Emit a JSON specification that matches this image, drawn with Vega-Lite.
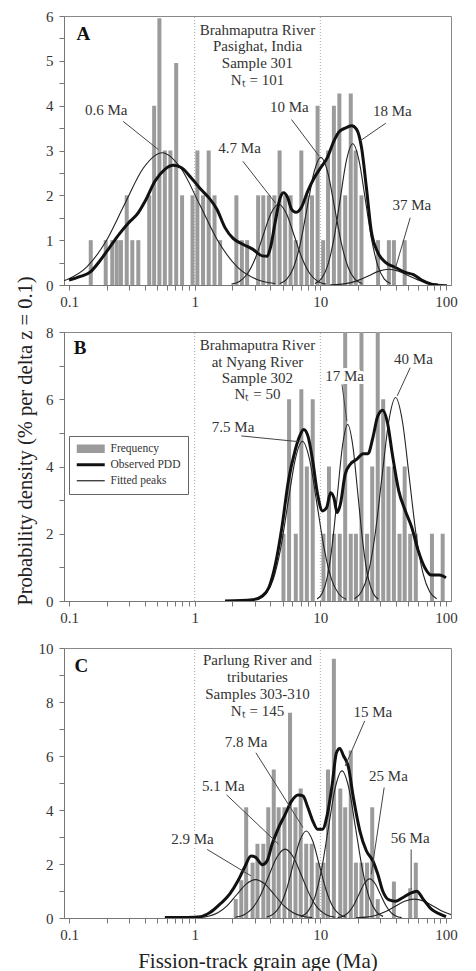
{
"$schema": "https://vega.github.io/schema/vega-lite/v6.json",
"padding": {"left": 14, "top": 8, "right": 5, "bottom": 0},
"spacing": 47,
"bounds": "flush",
"config": {
  "font": "Liberation Serif",
  "view": {"stroke": "#888", "strokeWidth": 1},
  "axis": {"labelFont": "Liberation Serif", "labelFontSize": 15, "labelColor": "#333", "tickColor": "#777", "domainColor": "#777", "tickSize": 5, "grid": false, "titleFont": "Liberation Serif", "titleFontWeight": "normal", "titleColor": "#222"},
  "text": {"font": "Liberation Serif", "fontSize": 15, "fill": "#333"}
},
"datasets": {
  "dividers": [{"panel":"A","age":1,"density":0,"density2":6},{"panel":"A","age":10,"density":0,"density2":6},{"panel":"B","age":1,"density":0,"density2":8},{"panel":"B","age":10,"density":0,"density2":8},{"panel":"C","age":1,"density":0,"density2":10},{"panel":"C","age":10,"density":0,"density2":10}],
  "bars": [
    {"panel":"A","age":0.149,"density":1},{"panel":"A","age":0.196,"density":1},{"panel":"A","age":0.221,"density":1},{"panel":"A","age":0.240,"density":1},{"panel":"A","age":0.259,"density":1},{"panel":"A","age":0.288,"density":2},{"panel":"A","age":0.319,"density":1},{"panel":"A","age":0.356,"density":1},{"panel":"A","age":0.435,"density":2},{"panel":"A","age":0.476,"density":4},{"panel":"A","age":0.524,"density":5.95},{"panel":"A","age":0.579,"density":3},{"panel":"A","age":0.641,"density":3},{"panel":"A","age":0.713,"density":4.95},{"panel":"A","age":0.794,"density":2},{"panel":"A","age":0.961,"density":2},{"panel":"A","age":1.051,"density":3},{"panel":"A","age":1.166,"density":2},{"panel":"A","age":1.293,"density":3},{"panel":"A","age":1.439,"density":2},{"panel":"A","age":1.594,"density":1},{"panel":"A","age":2.148,"density":2},{"panel":"A","age":2.374,"density":1},{"panel":"A","age":2.615,"density":1},{"panel":"A","age":3.199,"density":2},{"panel":"A","age":3.516,"density":2},{"panel":"A","age":3.893,"density":2},{"panel":"A","age":4.311,"density":2},{"panel":"A","age":4.74,"density":3},{"panel":"A","age":5.248,"density":2},{"panel":"A","age":5.8,"density":2},{"panel":"A","age":6.38,"density":1},{"panel":"A","age":7.06,"density":3},{"panel":"A","age":7.81,"density":2},{"panel":"A","age":8.59,"density":2},{"panel":"A","age":9.51,"density":4},{"panel":"A","age":10.53,"density":1},{"panel":"A","age":11.52,"density":3},{"panel":"A","age":12.82,"density":4},{"panel":"A","age":14.17,"density":4.27},{"panel":"A","age":15.77,"density":2},{"panel":"A","age":17.46,"density":4.27},{"panel":"A","age":19.1,"density":3},{"panel":"A","age":21.25,"density":2},{"panel":"A","age":28.8,"density":1},{"panel":"A","age":35.1,"density":1},{"panel":"A","age":38.5,"density":1},{"panel":"A","age":46.9,"density":1},
    {"panel":"B","age":5.09,"density":2},{"panel":"B","age":5.64,"density":6},{"panel":"B","age":6.38,"density":2},{"panel":"B","age":7.06,"density":6.3},{"panel":"B","age":7.81,"density":4},{"panel":"B","age":8.70,"density":6},{"panel":"B","age":10.59,"density":2},{"panel":"B","age":11.72,"density":4},{"panel":"B","age":12.82,"density":2},{"panel":"B","age":14.27,"density":2},{"panel":"B","age":15.77,"density":9},{"panel":"B","age":17.46,"density":2},{"panel":"B","age":19.19,"density":2},{"panel":"B","age":21.25,"density":9},{"panel":"B","age":23.53,"density":2},{"panel":"B","age":25.87,"density":4},{"panel":"B","age":28.63,"density":9},{"panel":"B","age":31.65,"density":6},{"panel":"B","age":34.85,"density":4},{"panel":"B","age":38.5,"density":4},{"panel":"B","age":42.66,"density":2},{"panel":"B","age":46.9,"density":4},{"panel":"B","age":51.9,"density":2},{"panel":"B","age":57.5,"density":2},{"panel":"B","age":77.3,"density":2},{"panel":"B","age":94.1,"density":2},
    {"panel":"C","age":2.122,"density":0.7},{"panel":"C","age":2.35,"density":1.4},{"panel":"C","age":2.57,"density":4.1},{"panel":"C","age":2.89,"density":2.05},{"panel":"C","age":3.16,"density":2.75},{"panel":"C","age":3.52,"density":2.75},{"panel":"C","age":3.85,"density":4.1},{"panel":"C","age":4.26,"density":5.5},{"panel":"C","age":4.66,"density":4.1},{"panel":"C","age":5.18,"density":4.1},{"panel":"C","age":5.74,"density":7.6},{"panel":"C","age":6.34,"density":4.1},{"panel":"C","age":6.98,"density":4.8},{"panel":"C","age":7.72,"density":2.75},{"panel":"C","age":8.54,"density":2.75},{"panel":"C","age":9.51,"density":2.05},{"panel":"C","age":10.59,"density":2.05},{"panel":"C","age":11.51,"density":5.5},{"panel":"C","age":12.82,"density":9.6},{"panel":"C","age":14.42,"density":4.8},{"panel":"C","age":15.77,"density":4.1},{"panel":"C","age":17.46,"density":6.2},{"panel":"C","age":19.19,"density":2.05},{"panel":"C","age":21.25,"density":2.05},{"panel":"C","age":23.53,"density":2.05},{"panel":"C","age":25.87,"density":4.1},{"panel":"C","age":28.63,"density":0.7},{"panel":"C","age":38.5,"density":1.35},{"panel":"C","age":51.9,"density":1.1},{"panel":"C","age":57.5,"density":2.05}
  ],
  "pdd": [
    {"panel":"A","age":0.1,"density":0.11},{"panel":"A","age":0.1233,"density":0.19},{"panel":"A","age":0.149,"density":0.30},{"panel":"A","age":0.1762,"density":0.54},{"panel":"A","age":0.2106,"density":0.84},{"panel":"A","age":0.2518,"density":1.14},{"panel":"A","age":0.3011,"density":1.40},{"panel":"A","age":0.349,"density":1.58},{"panel":"A","age":0.405,"density":1.88},{"panel":"A","age":0.484,"density":2.32},{"panel":"A","age":0.579,"density":2.58},{"panel":"A","age":0.673,"density":2.67},{"panel":"A","age":0.78,"density":2.62},{"panel":"A","age":0.933,"density":2.40},{"panel":"A","age":1.115,"density":2.14},{"panel":"A","age":1.293,"density":1.95},{"panel":"A","age":1.503,"density":1.69},{"panel":"A","age":1.743,"density":1.28},{"panel":"A","age":2.022,"density":1.04},{"panel":"A","age":2.417,"density":0.91},{"panel":"A","age":2.89,"density":0.80},{"panel":"A","age":3.455,"density":0.65},{"panel":"A","age":3.777,"density":0.64},{"panel":"A","age":4.014,"density":0.84},{"panel":"A","age":4.39,"density":1.43},{"panel":"A","age":4.80,"density":1.95},{"panel":"A","age":5.09,"density":2.06},{"panel":"A","age":5.50,"density":1.95},{"panel":"A","age":5.90,"density":1.69},{"panel":"A","age":6.39,"density":1.62},{"panel":"A","age":7.06,"density":1.73},{"panel":"A","age":7.96,"density":2.10},{"panel":"A","age":8.97,"density":2.40},{"panel":"A","age":10.09,"density":2.62},{"panel":"A","age":11.37,"density":2.84},{"panel":"A","age":12.82,"density":3.21},{"panel":"A","age":14.02,"density":3.41},{"panel":"A","age":15.77,"density":3.50},{"panel":"A","age":17.78,"density":3.55},{"panel":"A","age":19.44,"density":3.47},{"panel":"A","age":21.26,"density":3.07},{"panel":"A","age":23.24,"density":2.18},{"panel":"A","age":25.41,"density":1.21},{"panel":"A","age":28.64,"density":0.73},{"panel":"A","age":33.21,"density":0.50},{"panel":"A","age":39.7,"density":0.39},{"panel":"A","age":47.5,"density":0.28},{"panel":"A","age":55.1,"density":0.23},{"panel":"A","age":64.0,"density":0.11},{"panel":"A","age":76.5,"density":0.02},{"panel":"A","age":86.1,"density":0},
    {"panel":"B","age":1.743,"density":0},{"panel":"B","age":2.89,"density":0.04},{"panel":"B","age":3.455,"density":0.15},{"panel":"B","age":3.894,"density":0.40},{"panel":"B","age":4.39,"density":1.09},{"panel":"B","age":4.94,"density":2.18},{"panel":"B","age":5.57,"density":3.57},{"panel":"B","age":6.28,"density":4.46},{"panel":"B","age":6.86,"density":4.91},{"panel":"B","age":7.37,"density":5.10},{"panel":"B","age":7.96,"density":4.91},{"panel":"B","age":8.70,"density":4.16},{"panel":"B","age":9.51,"density":3.17},{"panel":"B","age":10.40,"density":2.68},{"panel":"B","age":11.23,"density":2.78},{"panel":"B","age":12.06,"density":3.22},{"panel":"B","age":12.82,"density":3.07},{"panel":"B","age":13.60,"density":2.63},{"panel":"B","age":14.42,"density":2.87},{"panel":"B","age":15.77,"density":3.77},{"panel":"B","age":17.24,"density":4.06},{"panel":"B","age":19.44,"density":4.21},{"panel":"B","age":21.91,"density":4.38},{"panel":"B","age":23.96,"density":4.38},{"panel":"B","age":26.19,"density":4.86},{"panel":"B","age":28.64,"density":5.50},{"panel":"B","age":31.31,"density":5.67},{"panel":"B","age":34.23,"density":5.30},{"panel":"B","age":37.44,"density":4.36},{"panel":"B","age":42.12,"density":3.27},{"panel":"B","age":47.5,"density":2.68},{"panel":"B","age":53.5,"density":2.18},{"panel":"B","age":60.2,"density":1.49},{"panel":"B","age":67.9,"density":0.99},{"panel":"B","age":76.5,"density":0.77},{"panel":"B","age":88.7,"density":0.77},{"panel":"B","age":100,"density":0.69},
    {"panel":"C","age":0.579,"density":0.02},{"panel":"C","age":0.879,"density":0.02},{"panel":"C","age":1.115,"density":0.05},{"panel":"C","age":1.333,"density":0.21},{"panel":"C","age":1.594,"density":0.52},{"panel":"C","age":1.905,"density":0.89},{"panel":"C","age":2.211,"density":1.38},{"panel":"C","age":2.491,"density":1.87},{"panel":"C","age":2.808,"density":2.30},{"panel":"C","age":3.07,"density":2.24},{"panel":"C","age":3.455,"density":1.97},{"panel":"C","age":3.777,"density":2.12},{"panel":"C","age":4.13,"density":2.73},{"panel":"C","age":4.656,"density":3.35},{"panel":"C","age":5.248,"density":3.84},{"panel":"C","age":5.90,"density":4.33},{"panel":"C","age":6.655,"density":4.56},{"panel":"C","age":7.277,"density":4.52},{"panel":"C","age":7.96,"density":4.09},{"panel":"C","age":8.70,"density":3.60},{"panel":"C","age":9.51,"density":3.29},{"panel":"C","age":10.40,"density":3.29},{"panel":"C","age":11.37,"density":3.84},{"panel":"C","age":12.43,"density":4.95},{"panel":"C","age":13.43,"density":6.12},{"panel":"C","age":14.27,"density":6.28},{"panel":"C","age":15.32,"density":6.00},{"panel":"C","age":16.76,"density":5.57},{"panel":"C","age":18.32,"density":4.46},{"panel":"C","age":20.62,"density":3.23},{"panel":"C","age":23.24,"density":2.49},{"panel":"C","age":26.19,"density":2.12},{"panel":"C","age":28.64,"density":1.63},{"panel":"C","age":31.31,"density":1.01},{"panel":"C","age":35.23,"density":0.67},{"panel":"C","age":39.7,"density":0.62},{"panel":"C","age":44.76,"density":0.74},{"panel":"C","age":51.9,"density":0.91},{"panel":"C","age":58.5,"density":0.99},{"panel":"C","age":65.8,"density":0.70},{"panel":"C","age":76.5,"density":0.33},{"panel":"C","age":88.7,"density":0.15},{"panel":"C","age":100,"density":0.05}
  ],
  "peaks": [
    {"panel":"A","peak":"0.6","age":0.0692,"density":0.033},{"panel":"A","peak":"0.6","age":0.0978,"density":0.13},{"panel":"A","peak":"0.6","age":0.1381,"density":0.399},{"panel":"A","peak":"0.6","age":0.1952,"density":0.958},{"panel":"A","peak":"0.6","age":0.2757,"density":1.789},{"panel":"A","peak":"0.6","age":0.3895,"density":2.603},{"panel":"A","peak":"0.6","age":0.55,"density":2.95},{"panel":"A","peak":"0.6","age":0.777,"density":2.603},{"panel":"A","peak":"0.6","age":1.098,"density":1.789},{"panel":"A","peak":"0.6","age":1.55,"density":0.958},{"panel":"A","peak":"0.6","age":2.19,"density":0.399},{"panel":"A","peak":"0.6","age":3.094,"density":0.13},{"panel":"A","peak":"0.6","age":4.37,"density":0.033},
    {"panel":"A","peak":"4.7","age":1.965,"density":0.02},{"panel":"A","peak":"4.7","age":2.27,"density":0.079},{"panel":"A","peak":"4.7","age":2.62,"density":0.244},{"panel":"A","peak":"4.7","age":3.027,"density":0.584},{"panel":"A","peak":"4.7","age":3.495,"density":1.092},{"panel":"A","peak":"4.7","age":4.036,"density":1.589},{"panel":"A","peak":"4.7","age":4.66,"density":1.8},{"panel":"A","peak":"4.7","age":5.38,"density":1.589},{"panel":"A","peak":"4.7","age":6.21,"density":1.092},{"panel":"A","peak":"4.7","age":7.18,"density":0.584},{"panel":"A","peak":"4.7","age":8.29,"density":0.244},{"panel":"A","peak":"4.7","age":9.57,"density":0.079},{"panel":"A","peak":"4.7","age":11.05,"density":0.02},
    {"panel":"A","peak":"10","age":4.757,"density":0.032},{"panel":"A","peak":"10","age":5.393,"density":0.125},{"panel":"A","peak":"10","age":6.114,"density":0.386},{"panel":"A","peak":"10","age":6.932,"density":0.925},{"panel":"A","peak":"10","age":7.859,"density":1.729},{"panel":"A","peak":"10","age":8.91,"density":2.515},{"panel":"A","peak":"10","age":10.1,"density":2.85},{"panel":"A","peak":"10","age":11.45,"density":2.515},{"panel":"A","peak":"10","age":12.98,"density":1.729},{"panel":"A","peak":"10","age":14.72,"density":0.925},{"panel":"A","peak":"10","age":16.69,"density":0.386},{"panel":"A","peak":"10","age":18.92,"density":0.125},{"panel":"A","peak":"10","age":21.45,"density":0.032},
    {"panel":"A","peak":"18","age":9.07,"density":0.035},{"panel":"A","peak":"18","age":10.18,"density":0.138},{"panel":"A","peak":"18","age":11.42,"density":0.426},{"panel":"A","peak":"18","age":12.81,"density":1.023},{"panel":"A","peak":"18","age":14.38,"density":1.91},{"panel":"A","peak":"18","age":16.13,"density":2.78},{"panel":"A","peak":"18","age":18.1,"density":3.15},{"panel":"A","peak":"18","age":20.31,"density":2.78},{"panel":"A","peak":"18","age":22.79,"density":1.91},{"panel":"A","peak":"18","age":25.57,"density":1.023},{"panel":"A","peak":"18","age":28.69,"density":0.426},{"panel":"A","peak":"18","age":32.19,"density":0.138},{"panel":"A","peak":"18","age":36.12,"density":0.035},
    {"panel":"A","peak":"37","age":12.0,"density":0.004},{"panel":"A","peak":"37","age":14.34,"density":0.015},{"panel":"A","peak":"37","age":17.14,"density":0.047},{"panel":"A","peak":"37","age":20.49,"density":0.114},{"panel":"A","peak":"37","age":24.5,"density":0.212},{"panel":"A","peak":"37","age":29.28,"density":0.309},{"panel":"A","peak":"37","age":35,"density":0.35},{"panel":"A","peak":"37","age":41.84,"density":0.309},{"panel":"A","peak":"37","age":50.0,"density":0.212},{"panel":"A","peak":"37","age":59.8,"density":0.114},{"panel":"A","peak":"37","age":71.5,"density":0.047},{"panel":"A","peak":"37","age":85.4,"density":0.015},{"panel":"A","peak":"37","age":102,"density":0.004},
    {"panel":"B","peak":"7.5","age":3.23,"density":0.053},{"panel":"B","peak":"7.5","age":3.693,"density":0.209},{"panel":"B","peak":"7.5","age":4.221,"density":0.643},{"panel":"B","peak":"7.5","age":4.825,"density":1.542},{"panel":"B","peak":"7.5","age":5.512,"density":2.881},{"panel":"B","peak":"7.5","age":6.3,"density":4.192},{"panel":"B","peak":"7.5","age":7.2,"density":4.75},{"panel":"B","peak":"7.5","age":8.228,"density":4.192},{"panel":"B","peak":"7.5","age":9.404,"density":2.881},{"panel":"B","peak":"7.5","age":10.75,"density":1.542},{"panel":"B","peak":"7.5","age":12.28,"density":0.643},{"panel":"B","peak":"7.5","age":14.04,"density":0.209},{"panel":"B","peak":"7.5","age":16.04,"density":0.053},
    {"panel":"B","peak":"17","age":9.43,"density":0.058},{"panel":"B","peak":"17","age":10.35,"density":0.23},{"panel":"B","peak":"17","age":11.36,"density":0.71},{"panel":"B","peak":"17","age":12.47,"density":1.705},{"panel":"B","peak":"17","age":13.69,"density":3.184},{"panel":"B","peak":"17","age":15.03,"density":4.633},{"panel":"B","peak":"17","age":16.5,"density":5.25},{"panel":"B","peak":"17","age":18.11,"density":4.633},{"panel":"B","peak":"17","age":19.89,"density":3.184},{"panel":"B","peak":"17","age":21.83,"density":1.705},{"panel":"B","peak":"17","age":23.96,"density":0.71},{"panel":"B","peak":"17","age":26.3,"density":0.23},{"panel":"B","peak":"17","age":28.87,"density":0.058},
    {"panel":"B","peak":"40","age":18.7,"density":0.067},{"panel":"B","peak":"40","age":21.2,"density":0.266},{"panel":"B","peak":"40","age":24.03,"density":0.819},{"panel":"B","peak":"40","age":27.25,"density":1.964},{"panel":"B","peak":"40","age":30.89,"density":3.669},{"panel":"B","peak":"40","age":35.02,"density":5.339},{"panel":"B","peak":"40","age":39.7,"density":6.05},{"panel":"B","peak":"40","age":45.01,"density":5.339},{"panel":"B","peak":"40","age":51.03,"density":3.669},{"panel":"B","peak":"40","age":57.86,"density":1.964},{"panel":"B","peak":"40","age":65.6,"density":0.819},{"panel":"B","peak":"40","age":74.35,"density":0.266},{"panel":"B","peak":"40","age":84.3,"density":0.067},
    {"panel":"C","peak":"2.9","age":1.082,"density":0.016},{"panel":"C","peak":"2.9","age":1.286,"density":0.062},{"panel":"C","peak":"2.9","age":1.529,"density":0.192},{"panel":"C","peak":"2.9","age":1.817,"density":0.461},{"panel":"C","peak":"2.9","age":2.16,"density":0.861},{"panel":"C","peak":"2.9","age":2.567,"density":1.253},{"panel":"C","peak":"2.9","age":3.05,"density":1.42},{"panel":"C","peak":"2.9","age":3.625,"density":1.253},{"panel":"C","peak":"2.9","age":4.31,"density":0.861},{"panel":"C","peak":"2.9","age":5.12,"density":0.461},{"panel":"C","peak":"2.9","age":6.085,"density":0.192},{"panel":"C","peak":"2.9","age":7.23,"density":0.062},{"panel":"C","peak":"2.9","age":8.6,"density":0.016},
    {"panel":"C","peak":"5.1","age":2.11,"density":0.028},{"panel":"C","peak":"5.1","age":2.456,"density":0.112},{"panel":"C","peak":"5.1","age":2.859,"density":0.345},{"panel":"C","peak":"5.1","age":3.328,"density":0.828},{"panel":"C","peak":"5.1","age":3.875,"density":1.547},{"panel":"C","peak":"5.1","age":4.51,"density":2.25},{"panel":"C","peak":"5.1","age":5.25,"density":2.55},{"panel":"C","peak":"5.1","age":6.11,"density":2.25},{"panel":"C","peak":"5.1","age":7.115,"density":1.547},{"panel":"C","peak":"5.1","age":8.283,"density":0.828},{"panel":"C","peak":"5.1","age":9.643,"density":0.345},{"panel":"C","peak":"5.1","age":11.23,"density":0.112},{"panel":"C","peak":"5.1","age":13.07,"density":0.028},
    {"panel":"C","peak":"7.8","age":3.738,"density":0.036},{"panel":"C","peak":"7.8","age":4.219,"density":0.141},{"panel":"C","peak":"7.8","age":4.761,"density":0.436},{"panel":"C","peak":"7.8","age":5.373,"density":1.046},{"panel":"C","peak":"7.8","age":6.061,"density":1.953},{"panel":"C","peak":"7.8","age":6.842,"density":2.842},{"panel":"C","peak":"7.8","age":7.72,"density":3.22},{"panel":"C","peak":"7.8","age":8.713,"density":2.842},{"panel":"C","peak":"7.8","age":9.831,"density":1.953},{"panel":"C","peak":"7.8","age":11.09,"density":1.046},{"panel":"C","peak":"7.8","age":12.52,"density":0.436},{"panel":"C","peak":"7.8","age":14.13,"density":0.141},{"panel":"C","peak":"7.8","age":15.94,"density":0.036},
    {"panel":"C","peak":"15","age":7.003,"density":0.06},{"panel":"C","peak":"15","age":7.94,"density":0.239},{"panel":"C","peak":"15","age":9.0,"density":0.737},{"panel":"C","peak":"15","age":10.2,"density":1.77},{"panel":"C","peak":"15","age":11.57,"density":3.305},{"panel":"C","peak":"15","age":13.12,"density":4.81},{"panel":"C","peak":"15","age":14.87,"density":5.45},{"panel":"C","peak":"15","age":16.86,"density":4.81},{"panel":"C","peak":"15","age":19.11,"density":3.305},{"panel":"C","peak":"15","age":21.67,"density":1.77},{"panel":"C","peak":"15","age":24.57,"density":0.737},{"panel":"C","peak":"15","age":27.86,"density":0.239},{"panel":"C","peak":"15","age":31.58,"density":0.06},
    {"panel":"C","peak":"25","age":13.73,"density":0.016},{"panel":"C","peak":"25","age":15.14,"density":0.064},{"panel":"C","peak":"25","age":16.7,"density":0.196},{"panel":"C","peak":"25","age":18.42,"density":0.471},{"panel":"C","peak":"25","age":20.31,"density":0.879},{"panel":"C","peak":"25","age":22.4,"density":1.28},{"panel":"C","peak":"25","age":24.7,"density":1.45},{"panel":"C","peak":"25","age":27.24,"density":1.28},{"panel":"C","peak":"25","age":30.04,"density":0.879},{"panel":"C","peak":"25","age":33.13,"density":0.471},{"panel":"C","peak":"25","age":36.53,"density":0.196},{"panel":"C","peak":"25","age":40.29,"density":0.064},{"panel":"C","peak":"25","age":44.43,"density":0.016},
    {"panel":"C","peak":"56","age":19.2,"density":0.008},{"panel":"C","peak":"56","age":22.95,"density":0.031},{"panel":"C","peak":"56","age":27.43,"density":0.095},{"panel":"C","peak":"56","age":32.79,"density":0.227},{"panel":"C","peak":"56","age":39.2,"density":0.425},{"panel":"C","peak":"56","age":46.85,"density":0.618},{"panel":"C","peak":"56","age":56,"density":0.7},{"panel":"C","peak":"56","age":66.93,"density":0.618},{"panel":"C","peak":"56","age":80.0,"density":0.425},{"panel":"C","peak":"56","age":95.6,"density":0.227},{"panel":"C","peak":"56","age":114.3,"density":0.095}
  ],
  "labels": [
    {"panel":"A","age":0.198,"density":3.91,"text":"0.6 Ma"},{"panel":"A","age":2.279,"density":3.06,"text":"4.7 Ma"},{"panel":"A","age":5.67,"density":3.96,"text":"10 Ma"},{"panel":"A","age":37.4,"density":3.88,"text":"18 Ma"},{"panel":"A","age":53.5,"density":1.78,"text":"37 Ma"},
    {"panel":"B","age":2.022,"density":5.17,"text":"7.5 Ma"},{"panel":"B","age":15.6,"density":6.69,"text":"17 Ma"},{"panel":"B","age":55.1,"density":7.19,"text":"40 Ma"},
    {"panel":"C","age":0.961,"density":2.91,"text":"2.9 Ma"},{"panel":"C","age":1.691,"density":4.89,"text":"5.1 Ma"},{"panel":"C","age":2.566,"density":6.53,"text":"7.8 Ma"},{"panel":"C","age":26.19,"density":7.63,"text":"15 Ma"},{"panel":"C","age":34.85,"density":5.26,"text":"25 Ma"},{"panel":"C","age":51.9,"density":2.97,"text":"56 Ma"}
  ],
  "arrows": [
    {"panel":"A","age":0.2696,"density":3.65,"age2":0.5145,"density2":3.02},{"panel":"A","age":2.417,"density":2.76,"age2":4.39,"density2":1.83},{"panel":"A","age":5.90,"density":3.69,"age2":9.80,"density2":2.87},{"panel":"A","age":33.2,"density":3.61,"age2":20.62,"density2":3.21},{"panel":"A","age":51.9,"density":1.50,"age2":39.7,"density2":0.39},
    {"panel":"B","age":2.349,"density":4.91,"age2":6.655,"density2":4.74},{"panel":"B","age":14.87,"density":6.44,"age2":16.26,"density2":5.35},{"panel":"B","age":51.9,"density":6.94,"age2":40.9,"density2":6.10},
    {"panel":"C","age":1.257,"density":2.54,"age2":2.808,"density2":1.56},{"panel":"C","age":1.797,"density":4.56,"age2":4.656,"density2":2.73},{"panel":"C","age":3.07,"density":6.12,"age2":7.277,"density2":3.35},{"panel":"C","age":22.54,"density":7.30,"age2":15.77,"density2":5.63},{"panel":"C","age":32.2,"density":4.83,"age2":25.41,"density2":1.62},{"panel":"C","age":52.8,"density":2.54,"age2":52.8,"density2":1.06}
  ],
  "letters": [
    {"panel":"A","age":0.1147,"density":5.6,"text":"A"},{"panel":"B","age":0.1093,"density":7.53,"text":"B"},{"panel":"C","age":0.1107,"density":9.33,"text":"C"}
  ],
  "blocks": [
    {"panel":"A","age":3.162,"density":5.855,"text":"Brahmaputra River\nPasighat, India\nSample 301\nNₜ = 101"},
    {"panel":"B","age":3.162,"density":7.81,"text":"Brahmaputra River\nat Nyang River\nSample 302\nNₜ = 50"},
    {"panel":"C","age":3.162,"density":9.80,"text":"Parlung River and\ntributaries\nSamples 303-310\nNₜ = 145"}
  ]
},
"resolve": {"scale": {"color": "independent"}, "legend": {"color": "independent"}},
"vconcat": [
  {
    "width": 387, "height": 269,
    "encoding": {
      "x": {"field": "age", "type": "quantitative", "scale": {"type": "log", "domain": [0.1, 100], "nice": false}, "axis": {"values": [0.1,0.2,0.3,0.4,0.5,0.6,0.7,0.8,0.9,1,2,3,4,5,6,7,8,9,10,20,30,40,50,60,70,80,90,100], "labelExpr": "(datum.value === 0.1 || datum.value === 1 || datum.value === 10 || datum.value === 100) ? toString(datum.value) : ''", "title": null, "labelFlush": false, "labelOverlap": false, "labelPadding": 4}},
      "y": {"field": "density", "type": "quantitative", "scale": {"domain": [0, 6], "nice": false}, "axis": {"values": [0,0.5,1,1.5,2,2.5,3,3.5,4,4.5,5,5.5,6], "labelExpr": "datum.value % 1 === 0 ? toString(datum.value) : ''", "title": null, "labelPadding": 6}}
    },
    "layer": [
      {"data": {"name": "dividers"}, "transform": [{"filter": "datum.panel === 'A'"}], "mark": {"type": "rule", "color": "#aaa", "strokeDash": [1, 2], "strokeWidth": 1}, "encoding": {"y2": {"field": "density2"}}},
      {"data": {"name": "bars"}, "transform": [{"filter": "datum.panel === 'A'"}], "mark": {"type": "bar", "size": 4, "color": "#9b9b9b", "clip": true}, "encoding": {}},
      {"data": {"name": "peaks"}, "transform": [{"filter": "datum.panel === 'A'"}], "mark": {"type": "line", "color": "#222", "strokeWidth": 1.1, "interpolate": "monotone", "clip": true}, "encoding": {"detail": {"field": "peak"}}},
      {"data": {"name": "pdd"}, "transform": [{"filter": "datum.panel === 'A'"}], "mark": {"type": "line", "color": "#111", "strokeWidth": 3, "interpolate": "monotone", "clip": true}, "encoding": {}},
      {"data": {"name": "arrows"}, "transform": [{"filter": "datum.panel === 'A'"}], "mark": {"type": "rule", "color": "#444", "strokeWidth": 1}, "encoding": {"x2": {"field": "age2"}, "y2": {"field": "density2"}}},
      {"data": {"name": "labels"}, "transform": [{"filter": "datum.panel === 'A'"}], "mark": {"type": "text", "align": "center", "baseline": "middle", "fill": "white", "stroke": "white", "strokeWidth": 6, "strokeJoin": "round"}, "encoding": {"text": {"field": "text"}}},
      {"data": {"name": "labels"}, "transform": [{"filter": "datum.panel === 'A'"}], "mark": {"type": "text", "align": "center", "baseline": "middle"}, "encoding": {"text": {"field": "text"}}},
      {"data": {"name": "letters"}, "transform": [{"filter": "datum.panel === 'A'"}], "mark": {"type": "text", "align": "left", "baseline": "middle", "fontSize": 19, "fontWeight": "bold", "fill": "#111"}, "encoding": {"text": {"field": "text"}}},
      {"data": {"name": "blocks"}, "transform": [{"filter": "datum.panel === 'A'"}], "mark": {"type": "text", "align": "center", "baseline": "top", "lineBreak": "\n", "lineHeight": 16.7}, "encoding": {"text": {"field": "text"}}}
    ]
  },
  {
    "width": 387, "height": 269,
    "encoding": {
      "x": {"field": "age", "type": "quantitative", "scale": {"type": "log", "domain": [0.1, 100], "nice": false}, "axis": {"values": [0.1,0.2,0.3,0.4,0.5,0.6,0.7,0.8,0.9,1,2,3,4,5,6,7,8,9,10,20,30,40,50,60,70,80,90,100], "labelExpr": "(datum.value === 0.1 || datum.value === 1 || datum.value === 10 || datum.value === 100) ? toString(datum.value) : ''", "title": null, "labelFlush": false, "labelOverlap": false, "labelPadding": 4}},
      "y": {"field": "density", "type": "quantitative", "scale": {"domain": [0, 8], "nice": false}, "axis": {"values": [0,1,2,3,4,5,6,7,8], "labelExpr": "datum.value % 2 === 0 ? toString(datum.value) : ''", "title": "Probability density (% per delta z = 0.1)", "titleFontSize": 20.5, "titleX": -29, "titleY": 108.5, "labelPadding": 6}}
    },
    "layer": [
      {"data": {"name": "dividers"}, "transform": [{"filter": "datum.panel === 'B'"}], "mark": {"type": "rule", "color": "#aaa", "strokeDash": [1, 2], "strokeWidth": 1}, "encoding": {"y2": {"field": "density2"}}},
      {"data": {"name": "bars"}, "transform": [{"filter": "datum.panel === 'B'"}], "mark": {"type": "bar", "size": 4, "clip": true},
       "encoding": {
         "color": {"datum": "Frequency", "type": "nominal", "scale": {"domain": ["Frequency", "Observed PDD", "Fitted peaks"], "range": ["#9b9b9b", "#111", "#222"]},
           "legend": {"title": null, "orient": "none", "legendX": 5, "legendY": 104, "direction": "vertical", "fillColor": "white", "strokeColor": "#666", "padding": 7, "labelFont": "Liberation Serif", "labelFontSize": 11.5, "labelColor": "#333", "symbolSize": 100, "symbolOffset": 9, "labelOffset": 14, "rowPadding": 3,
             "encode": {"symbols": {"update": {
               "shape": {"signal": "datum.value === 'Frequency' ? 'M-2.8,-0.85H2.8V0.85H-2.8Z' : 'M-2.8,0H2.8'"},
               "strokeWidth": {"signal": "datum.value === 'Observed PDD' ? 3 : (datum.value === 'Fitted peaks' ? 1.2 : 0)"},
               "fill": {"signal": "datum.value === 'Frequency' ? '#9b9b9b' : 'transparent'"},
               "stroke": {"signal": "datum.value === 'Frequency' ? 'transparent' : '#111'"},
               "opacity": {"value": 1}}}}}}
       }},
      {"data": {"name": "peaks"}, "transform": [{"filter": "datum.panel === 'B'"}], "mark": {"type": "line", "strokeWidth": 1.1, "interpolate": "monotone", "clip": true}, "encoding": {"detail": {"field": "peak"}, "color": {"datum": "Fitted peaks", "type": "nominal"}}},
      {"data": {"name": "pdd"}, "transform": [{"filter": "datum.panel === 'B'"}], "mark": {"type": "line", "strokeWidth": 3, "interpolate": "monotone", "clip": true}, "encoding": {"color": {"datum": "Observed PDD", "type": "nominal"}}},
      {"data": {"name": "arrows"}, "transform": [{"filter": "datum.panel === 'B'"}], "mark": {"type": "rule", "color": "#444", "strokeWidth": 1}, "encoding": {"x2": {"field": "age2"}, "y2": {"field": "density2"}}},
      {"data": {"name": "labels"}, "transform": [{"filter": "datum.panel === 'B'"}], "mark": {"type": "text", "align": "center", "baseline": "middle", "fill": "white", "stroke": "white", "strokeWidth": 6, "strokeJoin": "round"}, "encoding": {"text": {"field": "text"}}},
      {"data": {"name": "labels"}, "transform": [{"filter": "datum.panel === 'B'"}], "mark": {"type": "text", "align": "center", "baseline": "middle"}, "encoding": {"text": {"field": "text"}}},
      {"data": {"name": "letters"}, "transform": [{"filter": "datum.panel === 'B'"}], "mark": {"type": "text", "align": "left", "baseline": "middle", "fontSize": 19, "fontWeight": "bold", "fill": "#111"}, "encoding": {"text": {"field": "text"}}},
      {"data": {"name": "blocks"}, "transform": [{"filter": "datum.panel === 'B'"}], "mark": {"type": "text", "align": "center", "baseline": "top", "lineBreak": "\n", "lineHeight": 16.2}, "encoding": {"text": {"field": "text"}}}
    ]
  },
  {
    "width": 387, "height": 270,
    "encoding": {
      "x": {"field": "age", "type": "quantitative", "scale": {"type": "log", "domain": [0.1, 100], "nice": false}, "axis": {"values": [0.1,0.2,0.3,0.4,0.5,0.6,0.7,0.8,0.9,1,2,3,4,5,6,7,8,9,10,20,30,40,50,60,70,80,90,100], "labelExpr": "(datum.value === 0.1 || datum.value === 1 || datum.value === 10 || datum.value === 100) ? toString(datum.value) : ''", "title": "Fission-track grain age (Ma)", "titleFontSize": 21, "titlePadding": 8, "labelFlush": false, "labelOverlap": false, "labelPadding": 4}},
      "y": {"field": "density", "type": "quantitative", "scale": {"domain": [0, 10], "nice": false}, "axis": {"values": [0,1,2,3,4,5,6,7,8,9,10], "labelExpr": "datum.value % 2 === 0 ? toString(datum.value) : ''", "title": null, "labelPadding": 6}}
    },
    "layer": [
      {"data": {"name": "dividers"}, "transform": [{"filter": "datum.panel === 'C'"}], "mark": {"type": "rule", "color": "#aaa", "strokeDash": [1, 2], "strokeWidth": 1}, "encoding": {"y2": {"field": "density2"}}},
      {"data": {"name": "bars"}, "transform": [{"filter": "datum.panel === 'C'"}], "mark": {"type": "bar", "size": 4, "color": "#9b9b9b", "clip": true}, "encoding": {}},
      {"data": {"name": "peaks"}, "transform": [{"filter": "datum.panel === 'C'"}], "mark": {"type": "line", "color": "#222", "strokeWidth": 1.1, "interpolate": "monotone", "clip": true}, "encoding": {"detail": {"field": "peak"}}},
      {"data": {"name": "pdd"}, "transform": [{"filter": "datum.panel === 'C'"}], "mark": {"type": "line", "color": "#111", "strokeWidth": 3, "interpolate": "monotone", "clip": true}, "encoding": {}},
      {"data": {"name": "arrows"}, "transform": [{"filter": "datum.panel === 'C'"}], "mark": {"type": "rule", "color": "#444", "strokeWidth": 1}, "encoding": {"x2": {"field": "age2"}, "y2": {"field": "density2"}}},
      {"data": {"name": "labels"}, "transform": [{"filter": "datum.panel === 'C'"}], "mark": {"type": "text", "align": "center", "baseline": "middle", "fill": "white", "stroke": "white", "strokeWidth": 6, "strokeJoin": "round"}, "encoding": {"text": {"field": "text"}}},
      {"data": {"name": "labels"}, "transform": [{"filter": "datum.panel === 'C'"}], "mark": {"type": "text", "align": "center", "baseline": "middle"}, "encoding": {"text": {"field": "text"}}},
      {"data": {"name": "letters"}, "transform": [{"filter": "datum.panel === 'C'"}], "mark": {"type": "text", "align": "left", "baseline": "middle", "fontSize": 19, "fontWeight": "bold", "fill": "#111"}, "encoding": {"text": {"field": "text"}}},
      {"data": {"name": "blocks"}, "transform": [{"filter": "datum.panel === 'C'"}], "mark": {"type": "text", "align": "center", "baseline": "top", "lineBreak": "\n", "lineHeight": 16.9}, "encoding": {"text": {"field": "text"}}}
    ]
  }
]
}
